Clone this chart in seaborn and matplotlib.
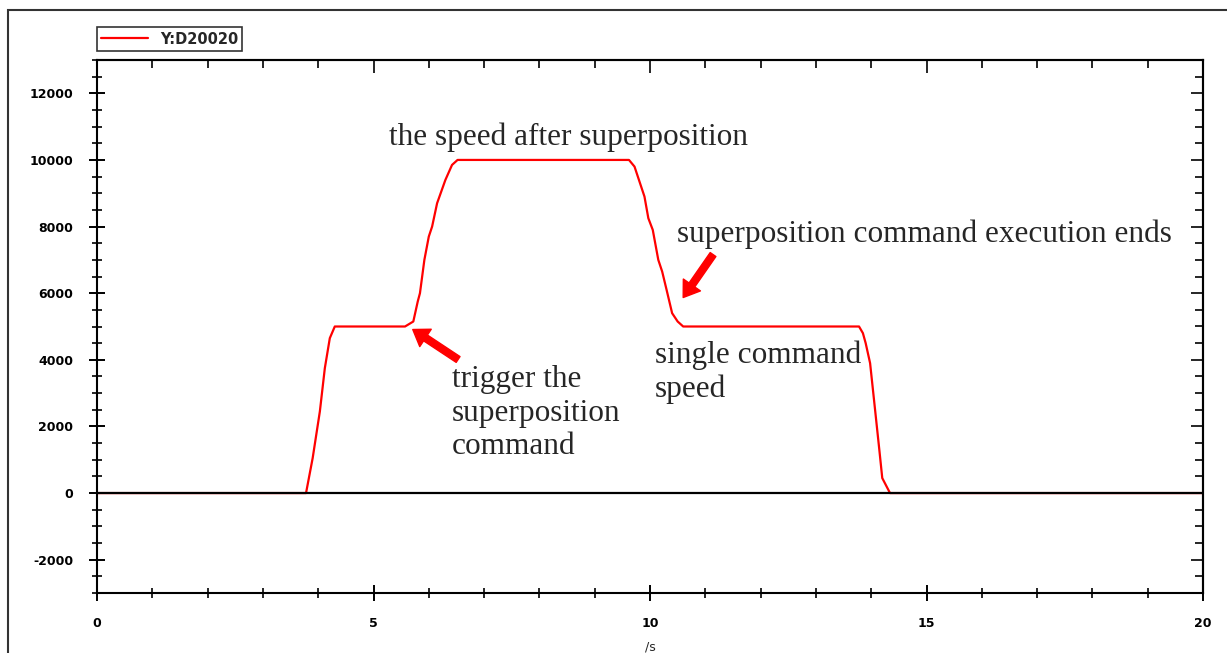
import matplotlib
matplotlib.use("Agg")
import matplotlib.pyplot as plt
from matplotlib.patches import Rectangle
from matplotlib.ticker import MultipleLocator
import pandas as pd
import seaborn as sns

# speed trace (time in s, speed)
time_s = [0.0, 3.78, 3.9, 4.03, 4.12, 4.21, 4.3,
          5.57, 5.72, 5.8, 5.84, 5.92, 6.0, 6.06, 6.15, 6.3, 6.42, 6.52,
          9.62, 9.72, 9.8, 9.9, 9.97, 10.05, 10.15, 10.22, 10.3, 10.4, 10.5, 10.6,
          13.78, 13.85, 13.9, 13.98, 14.07, 14.15, 14.2, 14.34, 20.0]
speed = [0, 0, 1050, 2450, 3750, 4650, 5000,
         5000, 5150, 5750, 6000, 7000, 7700, 8000, 8700, 9400, 9850, 10000,
         10000, 9800, 9400, 8900, 8250, 7900, 7000, 6650, 6100, 5400, 5150, 5000,
         5000, 4800, 4500, 3900, 2500, 1250, 450, 0, 0]
series_name = "Y:D20020"

xlim = (0, 20)
ylim = (-3000, 13000)

sns.set_style("ticks")
plt.rcParams["font.family"] = ["DejaVu Sans"]
plt.rcParams["axes.unicode_minus"] = False

df = pd.DataFrame({"t": time_s, "v": speed})

fig = plt.figure(figsize=(12.27, 6.53), dpi=100)
ax = fig.add_axes([97 / 1227, 1 - 593 / 653, 1106 / 1227, 533 / 653])

sns.lineplot(data=df, x="t", y="v", color="red", linewidth=1.6,
             label=series_name, ax=ax, zorder=2)
ax.axhline(0, color="black", linewidth=1.6, zorder=3)

ax.set_xlim(*xlim)
ax.set_ylim(*ylim)
ax.xaxis.set_major_locator(MultipleLocator(5))
ax.xaxis.set_minor_locator(MultipleLocator(1))
ax.yaxis.set_major_locator(MultipleLocator(2000))
ax.yaxis.set_minor_locator(MultipleLocator(500))

for s in ax.spines.values():
    s.set_linewidth(1.5)
    s.set_color("black")
    s.set_visible(True)

ax.tick_params(which="both", bottom=True, left=True, top=False, right=False)
ax.tick_params(which="major", direction="inout", length=12, width=1.4,
               pad=11, labelsize=9, colors="black")
ax.tick_params(which="minor", direction="inout", length=7, width=1.4)
for lab in ax.get_xticklabels() + ax.get_yticklabels():
    lab.set_fontweight("bold")

# inward ticks on top and right
top = ax.secondary_xaxis("top")
right = ax.secondary_yaxis("right")
for sec, axis in ((top, top.xaxis), (right, right.yaxis)):
    axis.set_major_locator(MultipleLocator(5 if sec is top else 2000))
    axis.set_minor_locator(MultipleLocator(1 if sec is top else 500))
    sec.tick_params(which="major", direction="in", length=9, width=1.4,
                    labeltop=False, labelright=False)
    sec.tick_params(which="minor", direction="in", length=6, width=1.4)
    for s in sec.spines.values():
        s.set_linewidth(1.5)

ax.set_xlabel("/s", fontsize=9, labelpad=8)
ax.set_ylabel("")

leg = ax.legend(loc="lower left", bbox_to_anchor=(0, 1.017), borderaxespad=0,
                frameon=True, fancybox=False, handlelength=3.2,
                prop={"size": 10.5, "weight": "bold"}, borderpad=0.3)
leg.get_frame().set_edgecolor("black")
leg.get_frame().set_linewidth(1.2)

serif = "Liberation Serif"
fs = 22.5
ax.text(8.52, 10690, "the speed after superposition", fontsize=fs,
        family=serif, ha="center", va="center")
ax.text(10.49, 7780, "superposition command execution ends", fontsize=fs,
        family=serif, ha="left", va="center")
ax.text(10.09, 3620, "single command\nspeed", fontsize=fs, family=serif,
        ha="left", va="center", linespacing=1.2)
ax.text(6.42, 2395, "trigger the\nsuperposition\ncommand", fontsize=fs,
        family=serif, ha="left", va="center", linespacing=1.2)

arrow = dict(arrowstyle="simple,head_width=1.5,head_length=1.1,tail_width=0.5",
             color="red", shrinkA=0, shrinkB=0)
ax.annotate("", xy=(5.71, 4910), xytext=(6.53, 4010), arrowprops=arrow)
ax.annotate("", xy=(10.6, 5870), xytext=(11.14, 7160), arrowprops=arrow)

# outer frame of the original screenshot
fig.patches.append(Rectangle((8 / 1227, -0.05), 1.2, 1 - 10 / 653 + 0.05,
                             transform=fig.transFigure, fill=False,
                             edgecolor="#333333", linewidth=1.5))

fig.savefig("out.png", dpi=100)
